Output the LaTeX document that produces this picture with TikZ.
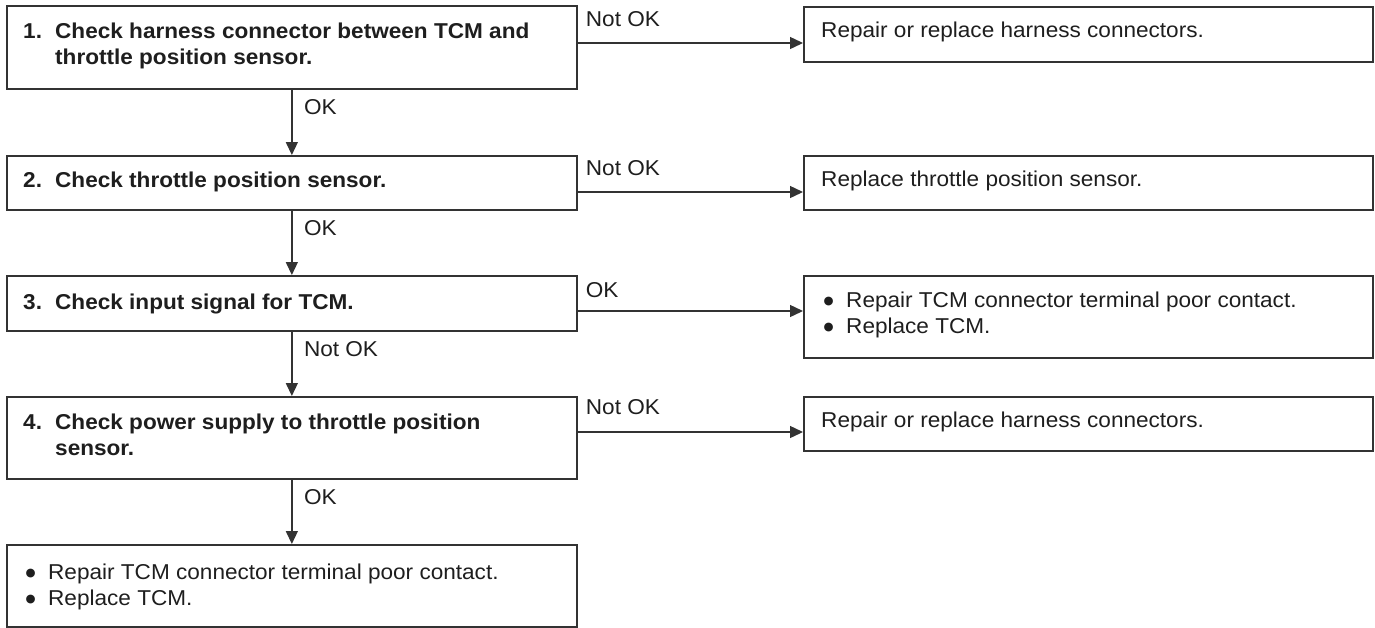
\documentclass[tikz,border=0pt]{standalone}
\usepackage{fontspec}
\setmainfont[FakeStretch=1.05]{Liberation Sans}
\newfontfamily\bulfont{DejaVu Sans}
\usetikzlibrary{arrows.meta}
\definecolor{ink}{HTML}{1E1E1E}
\definecolor{edge}{HTML}{333333}
\newcommand{\bigbul}{\makebox[23pt][l]{\hspace{0.5pt}\raisebox{2.5pt}{\bulfont\fontsize{11.5}{12}\selectfont ●}}}
\tikzset{
  box/.style={draw=edge, line width=1.7pt, rectangle, inner sep=0pt, anchor=north west, minimum width=570pt},
  rbox/.style={box, minimum width=569pt},
  txt/.style={inner sep=0pt, anchor=base west, text=ink, font=\fontsize{21.5}{26}\selectfont},
  btxt/.style={txt, font=\fontsize{21.5}{26}\selectfont\bfseries},
  lbl/.style={txt},
  arr/.style={draw=edge, line width=1.4pt, -{Triangle[length=13pt,width=12pt]}}
}
\begin{document}
\begin{tikzpicture}[x=1pt,y=-1pt]
\useasboundingbox (0,0) rectangle (1375,627);
% left column boxes
\node[box, minimum height=83pt] (b1) at (6,5) {};
\node[box, minimum height=54pt] (b2) at (6,155) {};
\node[box, minimum height=55pt] (b3) at (6,275) {};
\node[box, minimum height=82pt] (b4) at (6,396) {};
\node[box, minimum height=82pt] (b5) at (6,544) {};
% right column boxes
\node[rbox, minimum height=55pt] (r1) at (803,6) {};
\node[rbox, minimum height=54pt] (r2) at (803,155) {};
\node[rbox, minimum height=82pt] (r3) at (803,275) {};
\node[rbox, minimum height=54pt] (r4) at (803,396) {};
% texts in left boxes
\node[btxt] (t1a) at ([shift={(17pt,-33pt)}]b1.north west) {\makebox[32pt][l]{1.}Check harness connector between TCM and};
\node[btxt] (t1b) at ([shift={(49pt,-59pt)}]b1.north west) {throttle position sensor.};
\node[btxt] (t2) at ([shift={(17pt,-32pt)}]b2.north west) {\makebox[32pt][l]{2.}Check throttle position sensor.};
\node[btxt] (t3) at ([shift={(17pt,-34pt)}]b3.north west) {\makebox[32pt][l]{3.}Check input signal for TCM.};
\node[btxt] (t4a) at ([shift={(17pt,-33pt)}]b4.north west) {\makebox[32pt][l]{4.}Check power supply to throttle position};
\node[btxt] (t4b) at ([shift={(49pt,-59pt)}]b4.north west) {sensor.};
\node[txt] (t5a) at ([shift={(19pt,-35pt)}]b5.north west) {\bigbul Repair TCM connector terminal poor contact.};
\node[txt] (t5b) at ([shift={(19pt,-61pt)}]b5.north west) {\bigbul Replace TCM.};
% texts in right boxes
\node[txt] (s1) at ([shift={(18pt,-31pt)}]r1.north west) {Repair or replace harness connectors.};
\node[txt] (s2) at ([shift={(18pt,-31pt)}]r2.north west) {Replace throttle position sensor.};
\node[txt] (s3a) at ([shift={(20pt,-32pt)}]r3.north west) {\bigbul Repair TCM connector terminal poor contact.};
\node[txt] (s3b) at ([shift={(20pt,-58pt)}]r3.north west) {\bigbul Replace TCM.};
\node[txt] (s4) at ([shift={(18pt,-31pt)}]r4.north west) {Repair or replace harness connectors.};
% horizontal connectors
\coordinate (h1) at ([yshift=-38pt]b1.north east);
\coordinate (h2) at ([yshift=-37pt]b2.north east);
\coordinate (h3) at ([yshift=-36pt]b3.north east);
\coordinate (h4) at ([yshift=-36pt]b4.north east);
\draw[arr] (h1) -- (h1 -| r1.west);
\draw[arr] (h2) -- (h2 -| r2.west);
\draw[arr] (h3) -- (h3 -| r3.west);
\draw[arr] (h4) -- (h4 -| r4.west);
\node[lbl] (l1) at ([shift={(8pt,-21pt)}]b1.north east) {Not OK};
\node[lbl] (l2) at ([shift={(8pt,-20pt)}]b2.north east) {Not OK};
\node[lbl] (l3) at ([shift={(8pt,-22pt)}]b3.north east) {OK};
\node[lbl] (l4) at ([shift={(8pt,-18pt)}]b4.north east) {Not OK};
% vertical connectors
\draw[arr] (b1.south) -- (b2.north);
\draw[arr] (b2.south) -- (b3.north);
\draw[arr] (b3.south) -- (b4.north);
\draw[arr] (b4.south) -- (b5.north);
\node[lbl] (v1) at ([shift={(12pt,-25pt)}]b1.south) {OK};
\node[lbl] (v2) at ([shift={(12pt,-25pt)}]b2.south) {OK};
\node[lbl] (v3) at ([shift={(12pt,-25pt)}]b3.south) {Not OK};
\node[lbl] (v4) at ([shift={(12pt,-25pt)}]b4.south) {OK};
\end{tikzpicture}
\end{document}
